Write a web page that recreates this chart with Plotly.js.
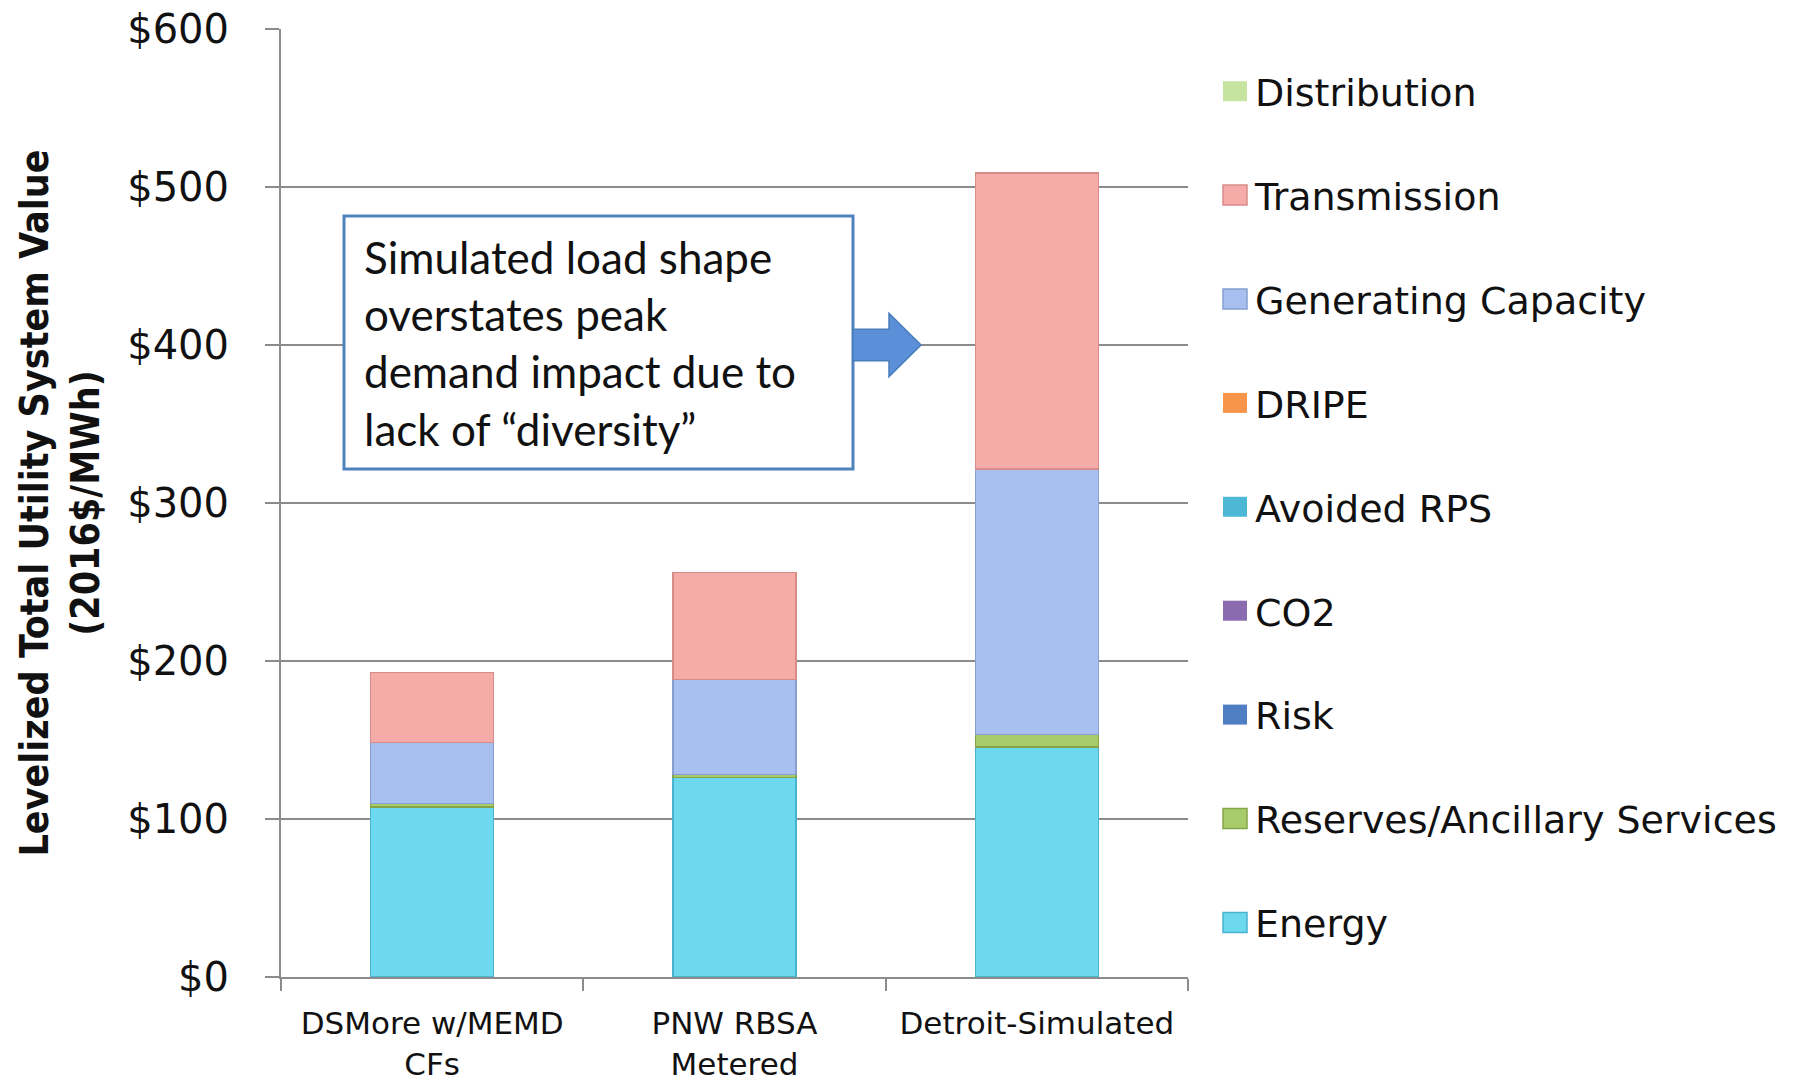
<!DOCTYPE html>
<html>
<head>
<meta charset="utf-8">
<script src="https://cdn.plot.ly/plotly-3.0.1.min.js"></script>
<style>
  html, body { margin: 0; padding: 0; background: #ffffff; }
  #chart { width: 1798px; height: 1085px; }
</style>
</head>
<body>
<div id="chart"></div>
<script>
// ---- Data ----
const categories = ['DSMore w/MEMD<br>CFs', 'PNW RBSA<br>Metered', 'Detroit-Simulated'];

const energy       = [107.5, 126.2, 145.6];
const reserves     = [2.2, 2.0, 7.9];
const risk         = [0, 0, 0];
const co2          = [0, 0, 0];
const avoidedRPS   = [0, 0, 0];
const dripe        = [0, 0, 0];
const genCapacity  = [38.7, 60.2, 167.9];
const transmission = [44.3, 67.6, 187.5];
const distribution = [0, 0, 0];

const seriesNames = ['Energy', 'Reserves/Ancillary Services', 'Risk', 'CO2', 'Avoided RPS',
                     'DRIPE', 'Generating Capacity', 'Transmission', 'Distribution'];
const seriesValues = [energy, reserves, risk, co2, avoidedRPS, dripe, genCapacity, transmission, distribution];
const seriesColors = ['#6cd9ef', '#a9cc6a', '#4f7fc2', '#8a6bb0', '#4cb8d6',
                      '#f7964a', '#a8c0ef', '#f5aba8', '#c6e3a0'];
const seriesEdges  = ['#48b4cf', '#86a548', '#3d68a6', '#6c5290', '#3a9cb8',
                      '#d87a30', '#869fd0', '#d88c88', '#a4c27c'];

const yTickValues = [0, 100, 200, 300, 400, 500, 600];
const yTickLabels = ['$0', '$100', '$200', '$300', '$400', '$500', '$600'];

const noteText = 'Simulated load shape<br>overstates peak<br>demand impact due to<br>lack of \u201cdiversity\u201d';

// ---- Traces ----
const traces = seriesNames.map((name, i) => ({
  type: 'bar',
  name: name,
  x: categories,
  y: seriesValues[i],
  legendgroup: 'g' + i,
  legendrank: 100 - i,
  marker: { color: seriesColors[i], line: { color: seriesEdges[i], width: seriesValues[i].some(v => v > 0) ? 1.5 : 0 } },
  hoverinfo: 'name+y'
}));

// ---- Layout ----
const plotLeft = 281, plotRight = 1188, plotTop = 29, plotBottom = 977;
const W = 1798, H = 1085;
const pw = plotRight - plotLeft, ph = plotBottom - plotTop;
const px2x = p => (p - plotLeft) / pw;
const py2y = p => (plotBottom - p) / ph;

const gray = '#8c8c8c';

const layout = {
  width: W, height: H,
  margin: { l: plotLeft, r: W - plotRight, t: plotTop, b: H - plotBottom, pad: 0 },
  paper_bgcolor: '#ffffff',
  plot_bgcolor: '#ffffff',
  barmode: 'stack',
  bargap: 0.593,
  showlegend: true,
  legend: {
    x: px2x(1215), xanchor: 'left',
    y: py2y(60), yanchor: 'top',
    traceorder: 'grouped',
    tracegroupgap: 51.5,
    font: { family: 'DejaVu Sans, Verdana, sans-serif', size: 38, color: '#111111' },
    bgcolor: 'rgba(0,0,0,0)'
  },
  xaxis: {
    type: 'category',
    showline: true, linecolor: gray, linewidth: 2,
    ticks: 'outside', tickson: 'boundaries', ticklen: 12, tickwidth: 2, tickcolor: gray,
    showgrid: false, zeroline: false,
    tickfont: { family: 'DejaVu Sans, Verdana, sans-serif', size: 31, color: '#111111' },
    ticklabelstandoff: 18
  },
  yaxis: {
    range: [0, 600],
    tickmode: 'array',
    tickvals: yTickValues,
    ticktext: yTickLabels,
    showline: true, linecolor: gray, linewidth: 2,
    ticks: 'outside', ticklen: 14, tickwidth: 2, tickcolor: gray,
    showgrid: true, gridcolor: gray, gridwidth: 2,
    zeroline: false,
    tickfont: { family: 'DejaVu Sans, Verdana, sans-serif', size: 40, color: '#111111' },
    ticklabelstandoff: 28,
    title: {
      text: 'Levelized Total Utility System Value<br>(2016$/MWh)',
      font: { family: 'DejaVu Sans Condensed, Liberation Sans Narrow, sans-serif', size: 39, color: '#111111', weight: 'bold' },
      standoff: 16
    }
  },
  shapes: [
    {
      type: 'rect', xref: 'paper', yref: 'paper',
      x0: px2x(344), x1: px2x(853), y0: py2y(469), y1: py2y(216),
      line: { color: '#4f81bd', width: 3 },
      fillcolor: '#ffffff',
      layer: 'above'
    },
    {
      type: 'path', xref: 'paper', yref: 'y',
      path: 'M' + px2x(853) + ',410 L' + px2x(889) + ',410 L' + px2x(889) + ',420 L' + px2x(921) + ',400 L' +
            px2x(889) + ',380 L' + px2x(889) + ',390 L' + px2x(853) + ',390 Z',
      fillcolor: '#5b8fd8',
      line: { color: '#4a7ebb', width: 1.5 },
      layer: 'above'
    }
  ],
  annotations: [
    {
      xref: 'paper', yref: 'paper',
      x: px2x(362), y: py2y(343),
      xanchor: 'left', yanchor: 'middle',
      align: 'left',
      showarrow: false,
      text: noteText,
      font: { family: 'Lato, Open Sans, sans-serif', size: 44, color: '#111111' }
    }
  ]
};

Plotly.newPlot('chart', traces, layout, { staticPlot: true, displayModeBar: false }).then(gd => {
  // enlarge legend swatches to match the reference's wider colour keys
  gd.querySelectorAll('.legend .legendpoints path').forEach(p => {
    p.setAttribute('d', 'M12,10H-12V-10H12Z');
  });
});
</script>
</body>
</html>
